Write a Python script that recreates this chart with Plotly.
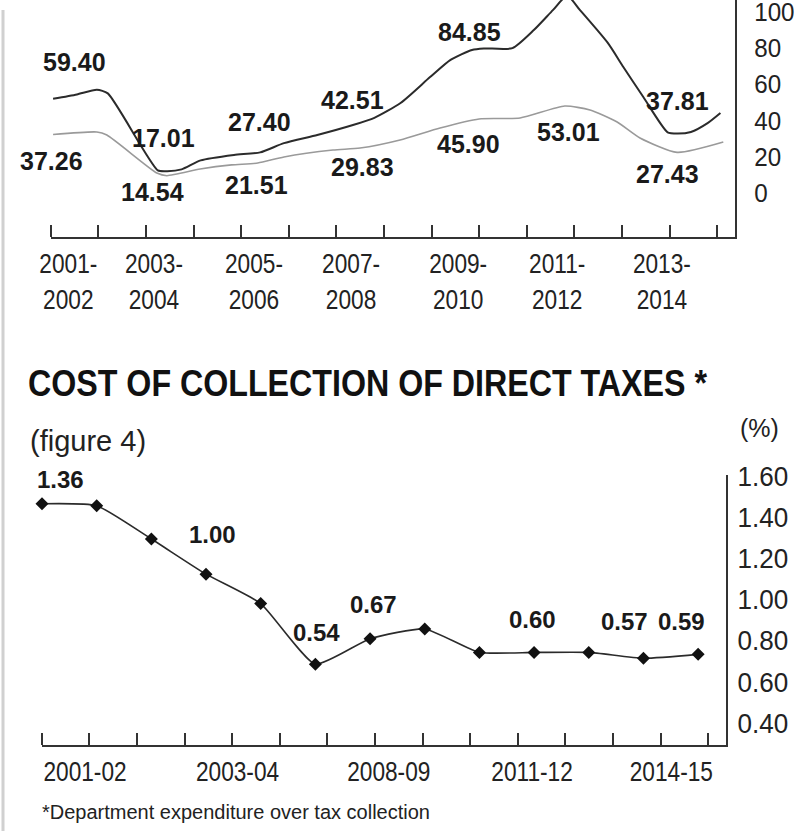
import plotly.graph_objects as go

W, H = 794, 831

# ---------------- top chart: two series ----------------
top_x_labels = ["2001-<br>2002", "2003-<br>2004", "2005-<br>2006", "2007-<br>2008",
                "2009-<br>2010", "2011-<br>2012", "2013-<br>2014"]
top_y_labels = ["0", "20", "40", "60", "80", "100"]
top_y_ticks = [0, 20, 40, 60, 80, 100]

dark_x = [0.05, 0.55, 0.97, 1.2, 2.25, 2.45, 2.75, 3.15, 3.85, 4.4, 4.9, 5.6, 6.35, 6.8,
          7.35, 7.97, 8.4, 8.85, 9.1, 9.7, 10.15, 10.55, 10.85, 11.12, 11.7, 12.03, 12.45,
          12.96, 13.17, 13.45, 13.8, 14.07]
dark_y = [57.0, 59.40, 62.0, 60.0, 17.5, 17.01, 18.0, 23.0, 26.0, 27.40, 32.5, 37.0, 42.51, 46.5,
          54.7, 69.0, 78.5, 84.0, 84.85, 85.0, 95.0, 106.0, 114.0, 106.0, 88.0, 74.6, 58.0,
          38.5, 37.81, 38.7, 43.6, 49.2]
dark_labels = ["59.40", "17.01", "27.40", "42.51", "84.85", "37.81"]
dark_label_idx = [1, 5, 9, 12, 18, 28]

gray_x = [0.05, 0.97, 1.18, 2.23, 2.44, 3.14, 3.8, 4.35, 4.9, 5.93, 6.5, 7.34, 8.18, 9.0,
          9.86, 10.8, 11.33, 11.9, 12.38, 13.16, 14.13]
gray_y = [37.26, 38.7, 37.0, 16.0, 14.54, 18.2, 20.5, 21.51, 24.9, 28.7, 29.83, 34.3, 40.9, 45.90,
          46.4, 53.01, 50.8, 44.2, 35.4, 27.43, 33.1]
gray_labels = ["37.26", "14.54", "21.51", "29.83", "45.90", "53.01", "27.43"]
gray_label_idx = [0, 4, 7, 10, 13, 15, 19]

# ---------------- bottom chart: cost of collection (%) ----------------
cost_x = list(range(13))
cost_y = [1.36, 1.35, 1.18, 1.00, 0.85, 0.54, 0.67, 0.72, 0.60, 0.60, 0.60, 0.57, 0.59]
cost_labels = ["1.36", "1.00", "0.54", "0.67", "0.60", "0.57", "0.59"]
cost_label_idx = [0, 3, 5, 6, 9, 11, 12]
bottom_x_labels = ["2001-02", "2003-04", "2008-09", "2011-12", "2014-15"]
bottom_y_labels = ["0.40", "0.60", "0.80", "1.00", "1.20", "1.40", "1.60"]
bottom_y_ticks = [0.40, 0.60, 0.80, 1.00, 1.20, 1.40, 1.60]

# ---------------- styling / layout constants ----------------
SANS = "Liberation Sans, Arial, sans-serif"
DARK = "#2b2b2b"


def px_x(p):
    return p / W


def px_y(p):
    return 1 - p / H


# top label placement (positions along the axis, in axis units)
top_label_pos = [0.37, 2.17, 4.27, 6.31, 8.56, 10.64, 12.84]
dark_shift = [(-2, 32), (-4, 33), (-1, 30), (0, 25), (-14, 16), (0, 33)]
gray_shift = [(-2, -26), (-14, -16), (-1, -22), (2, -19), (-11, -25), (4, -26), (-10, -22)]
bottom_label_pos = [0.787, 3.576, 6.342, 8.963, 11.51]
cost_shift = [(18, 24), (6, 40), (1, 32), (3, 34), (-2, 33), (-19, 37), (-17, 33)]

fig = go.Figure()
fig.add_trace(go.Scatter(x=gray_x, y=gray_y, mode="lines",
                         line=dict(color="#9a9a9a", width=1.6, shape="spline", smoothing=0.6),
                         xaxis="x", yaxis="y", hoverinfo="skip"))
fig.add_trace(go.Scatter(x=dark_x, y=dark_y, mode="lines",
                         line=dict(color=DARK, width=2, shape="spline", smoothing=0.6),
                         xaxis="x", yaxis="y", hoverinfo="skip"))
fig.add_trace(go.Scatter(x=cost_x, y=cost_y, mode="lines+markers",
                         line=dict(color=DARK, width=1.6, shape="spline", smoothing=0.5),
                         marker=dict(symbol="diamond", size=10, color="#111"),
                         cliponaxis=False, xaxis="x2", yaxis="y2", hoverinfo="skip"))

annotations = []
lab_font = dict(family=SANS, size=25, color="#1a1a1a", weight="bold")
for txt, idx, (dx, dy) in zip(dark_labels, dark_label_idx, dark_shift):
    annotations.append(dict(x=dark_x[idx], y=dark_y[idx], xref="x", yref="y", text=txt,
                            showarrow=False, xshift=dx, yshift=dy, font=lab_font))
for txt, idx, (dx, dy) in zip(gray_labels, gray_label_idx, gray_shift):
    annotations.append(dict(x=gray_x[idx], y=gray_y[idx], xref="x", yref="y", text=txt,
                            showarrow=False, xshift=dx, yshift=dy, font=lab_font))
lab_font2 = dict(family=SANS, size=24, color="#1a1a1a", weight="bold")
for txt, idx, (dx, dy) in zip(cost_labels, cost_label_idx, cost_shift):
    annotations.append(dict(x=cost_x[idx], y=cost_y[idx], xref="x2", yref="y2", text=txt,
                            showarrow=False, xshift=dx, yshift=dy, font=lab_font2))

annotations += [
    dict(x=px_x(28), y=px_y(383), xref="paper", yref="paper", xanchor="left", yanchor="middle",
         text="COST OF COLLECTION OF DIRECT TAXES *", showarrow=False,
         font=dict(family=SANS, size=36, color="#111", weight="bold")),
    dict(x=px_x(28), y=px_y(441), xref="paper", yref="paper", xanchor="left", yanchor="middle",
         text="(figure 4)", showarrow=False, font=dict(family=SANS, size=29, color="#222")),
    dict(x=px_x(759), y=px_y(428), xref="paper", yref="paper", xanchor="center", yanchor="middle",
         text="(%)", showarrow=False, font=dict(family=SANS, size=25, color="#222")),
    dict(x=px_x(40), y=px_y(812), xref="paper", yref="paper", xanchor="left", yanchor="middle",
         text="*Department expenditure over tax collection", showarrow=False,
         font=dict(family=SANS, size=20, color="#222")),
]

# printed scales sit slightly above the plotted values in the original graphic
top_tick_pos = [5 + 1.0 * t for t in top_y_ticks]
bottom_tick_pos = [1.05 * t - 0.18 for t in bottom_y_ticks]

axis_common = dict(showgrid=False, zeroline=False, showline=True, linecolor="#333",
                   linewidth=2, fixedrange=True, automargin=False)
tick_font = dict(family=SANS, size=28, color="#222")

fig.update_layout(
    width=W, height=H, margin=dict(l=0, r=0, t=0, b=0, pad=0),
    paper_bgcolor="white", plot_bgcolor="white", showlegend=False, hovermode=False,
    xaxis=dict(domain=[px_x(50.7), px_x(735)], range=[0, 14.376], anchor="y",
               tickmode="array", tickvals=top_label_pos, ticktext=top_x_labels, ticks="",
               tickfont=tick_font, ticklabelstandoff=0,
               minor=dict(tick0=0, dtick=1, ticks="inside", ticklen=12, tickwidth=2,
                          tickcolor="#333"),
               **axis_common),
    yaxis=dict(domain=[px_y(237), 1], range=[-19.34, 111.6], anchor="x", side="right",
               tickmode="array", tickvals=top_tick_pos, ticktext=top_y_labels, ticks="",
               tickfont=dict(family=SANS, size=26, color="#222"), ticklabelstandoff=12,
               ticklabeloverflow="allow", **axis_common),
    xaxis2=dict(domain=[px_x(41.7), px_x(726)], range=[-0.0055, 12.51], anchor="y2",
                tickmode="array", tickvals=bottom_label_pos, ticktext=bottom_x_labels, ticks="",
                tickfont=tick_font, ticklabelstandoff=0,
                minor=dict(tick0=-0.0055, dtick=0.8707, ticks="inside", ticklen=12, tickwidth=2,
                           tickcolor="#333"),
                **axis_common),
    yaxis2=dict(domain=[px_y(745), px_y(475)], range=[0.1266, 1.507], anchor="x2", side="right",
                tickmode="array", tickvals=bottom_tick_pos, ticktext=bottom_y_labels, ticks="",
                tickfont=tick_font, ticklabelstandoff=4,
                **axis_common),
    annotations=annotations,
    shapes=[dict(type="line", xref="paper", yref="paper", x0=px_x(3), x1=px_x(3),
                 y0=px_y(10), y1=0, line=dict(color="#d0d0d0", width=3))],
)

# The original uses a condensed typeface; narrow the glyphs of the affected texts.
post = """
(function(){
  document.body.style.margin = '0';
  var gd = document.getElementById('{plot_id}');
  function squeeze(el, f, target){
    if (el.__orig === undefined) { el.__orig = el.getComputedTextLength(); }
    var L = target ? target : el.__orig * f;
    el.setAttribute('textLength', L.toFixed(1));
    el.setAttribute('lengthAdjust', 'spacingAndGlyphs');
  }
  function apply(sel, f){
    gd.querySelectorAll(sel).forEach(function(t){
      var lines = t.querySelectorAll('tspan.line');
      if (lines.length) { lines.forEach(function(s){ squeeze(s, f); }); }
      else { squeeze(t, f); }
    });
  }
  function fix(){
    apply('g.xtick text, g.x2tick text', 0.81);
    apply('g.ytick text, g.y2tick text', 0.93);
    gd.querySelectorAll('text.annotation-text').forEach(function(t){
      if (t.textContent.indexOf('COST OF') === 0) {
        t.setAttribute('text-anchor', 'start');
        t.setAttribute('x', '0');
        squeeze(t, 1, 679);
      }
    });
  }
  fix();
  if (gd.on) { gd.on('plotly_afterplot', fix); }
})();
"""

fig.write_html("out.html", post_script=post, config={"displayModeBar": False})
